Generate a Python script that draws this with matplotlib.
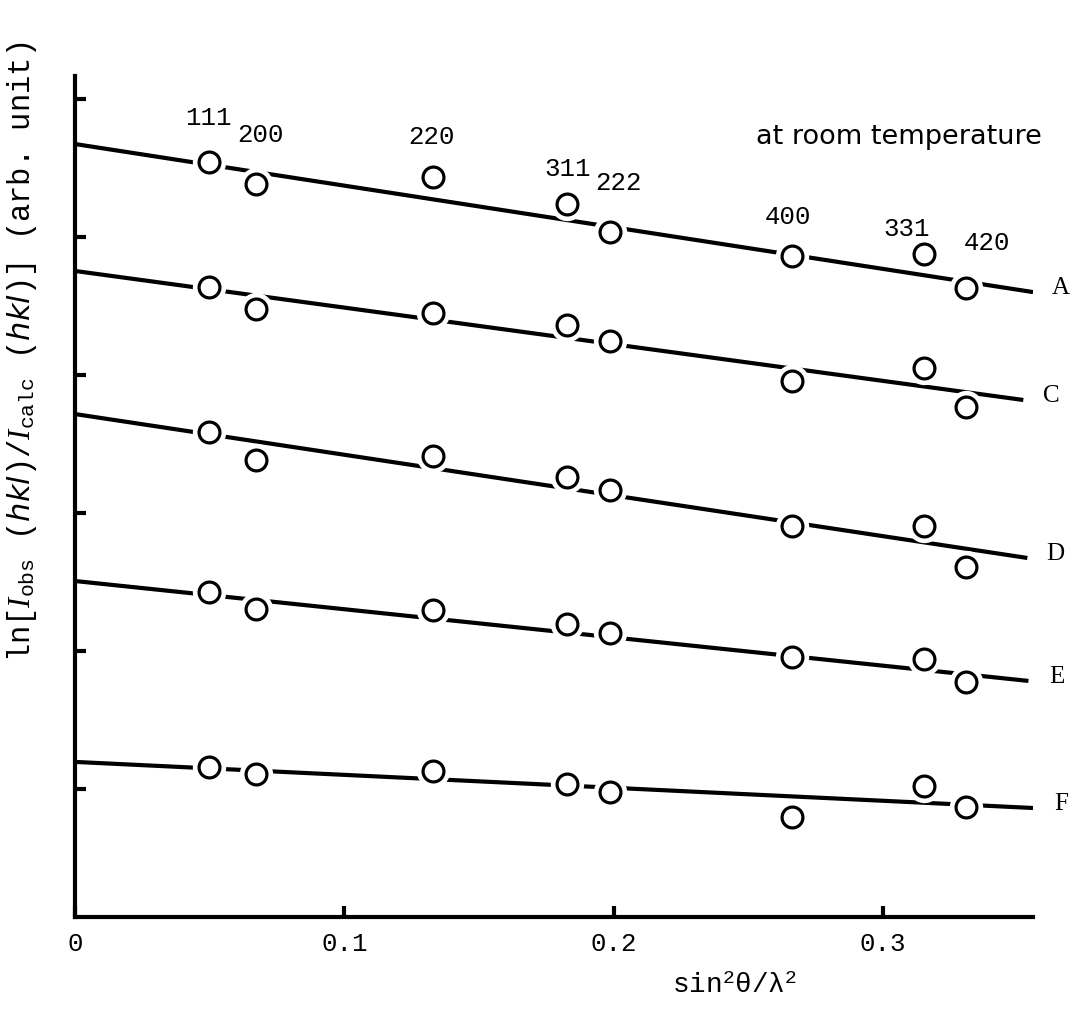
import matplotlib
matplotlib.use("Agg")
import matplotlib.pyplot as plt

plt.rcParams['font.family'] = ['Liberation Mono', 'DejaVu Sans']
plt.rcParams['mathtext.fontset'] = 'custom'
plt.rcParams['mathtext.rm'] = 'Liberation Mono'
plt.rcParams['mathtext.it'] = 'Liberation Serif:italic'
plt.rcParams['mathtext.bf'] = 'Liberation Mono:bold'
plt.rcParams['mathtext.sf'] = 'DejaVu Sans:italic'

# reflections and their sin^2(theta)/lambda^2
hkl = ["111", "200", "220", "311", "222", "400", "331", "420"]
s2 = [0.0498, 0.0672, 0.1329, 0.1827, 0.1987, 0.2662, 0.3153, 0.3309]

samples = ["A", "C", "D", "E", "F"]

# ln(Iobs/Icalc), arb. units
ln_A = [5.543, 5.384, 5.435, 5.239, 5.036, 4.862, 4.877, 4.630]
ln_C = [4.638, 4.478, 4.449, 4.362, 4.246, 3.957, 4.051, 3.768]
ln_D = [3.587, 3.384, 3.413, 3.261, 3.167, 2.906, 2.906, 2.609]
ln_E = [2.428, 2.304, 2.297, 2.196, 2.130, 1.957, 1.942, 1.775]
ln_F = [1.159, 1.109, 1.130, 1.036, 0.978, 0.797, 1.022, 0.870]

# fitted straight lines: value at 0 and at the right end
fit_x_end = [0.3557, 0.3521, 0.3536, 0.3540, 0.3557]
fit_start = [5.674, 4.754, 3.717, 2.507, 1.196]
fit_end = [4.601, 3.819, 2.674, 1.783, 0.862]

all_ln = [ln_A, ln_C, ln_D, ln_E, ln_F]

# where the hkl labels sit relative to the row A circles (pixels)
label_off = [(-1, 45), (5, 50), (-1, 41), (1, 36), (8, 50), (-4, 40), (-18, 26), (21, 46)]

fig = plt.figure(figsize=(10.7, 10.12), dpi=100)
ax = fig.add_axes([75 / 1070, 1 - 918 / 1012, 958 / 1070, 841 / 1012])

for i in range(len(samples)):
    ax.plot([0, fit_x_end[i]], [fit_start[i], fit_end[i]], color="black", lw=3.0,
            solid_capstyle="butt", zorder=2)
    ax.plot(s2, all_ln[i], ls="none", marker="o", ms=24, mfc="white", mec="none", zorder=3)
    ax.plot(s2, all_ln[i], ls="none", marker="o", ms=15, mfc="white", mec="black",
            mew=2.3, zorder=4)
    ax.annotate(samples[i], (fit_x_end[i], fit_end[i]), xytext=(28, 5),
                textcoords="offset pixels", ha="center", va="center",
                family="Liberation Serif", fontsize=18, annotation_clip=False)

for j in range(len(hkl)):
    ax.annotate(hkl[j], (s2[j], ln_A[j]), xytext=label_off[j], textcoords="offset pixels",
                ha="center", va="center", fontsize=18.5)

fig.text(899 / 1070, 1 - 137 / 1012, "at room temperature", ha="center", va="center",
         family="DejaVu Sans", fontsize=19.5)

ax.set_xlim(0, 0.3557)
ax.set_ylim(0.072, 6.167)
ax.set_xticks([0, 0.1, 0.2, 0.3])
ax.set_xticklabels(["0", "0.1", "0.2", "0.3"])
ax.set_yticks([1, 2, 3, 4, 5, 6])
ax.set_yticklabels([])
ax.tick_params(axis="both", direction="in", length=8, width=3, labelsize=18.5, pad=10)
for side in ["top", "right"]:
    ax.spines[side].set_visible(False)
for side in ["left", "bottom"]:
    ax.spines[side].set_linewidth(3)

fig.text(735 / 1070, 1 - 986 / 1012, r"sin$^2$θ/λ$^2$", ha="center", va="center", fontsize=20)
fig.text(22 / 1070, 1 - 352 / 1012,
         r"ln[$I_{\rm obs}$ ($\mathsf{hkl}$)/$I_{\rm calc}$ ($\mathsf{hkl}$)] (arb. unit)",
         rotation=90, ha="center", va="center", fontsize=22)

fig.savefig("out.png", dpi=100, facecolor="white")
